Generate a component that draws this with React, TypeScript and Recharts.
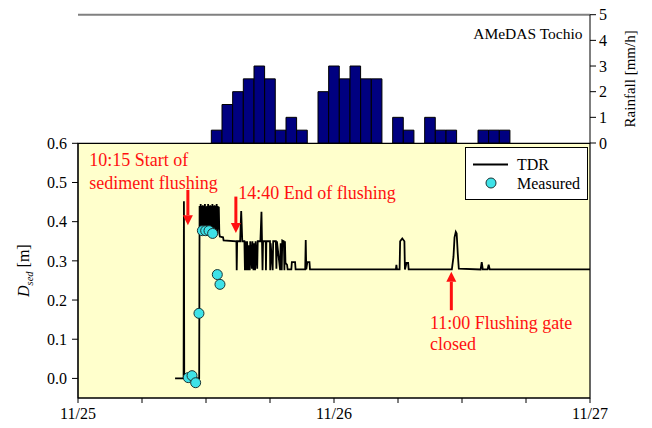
import {
  BarChart,
  Bar,
  ComposedChart,
  Line,
  Scatter,
  XAxis,
  YAxis,
  ReferenceLine,
  ReferenceArea,
  ReferenceDot,
  Legend,
} from "recharts";

const FONT = "Liberation Serif, Times New Roman, DejaVu Serif, serif";
const RED = "#ff1010";

// hours are counted from 11/25 00:00, rain bars centred on the hour
const rainHours = [13, 14, 15, 16, 17, 18, 19, 20, 21, 23, 24, 25, 26, 27, 28, 30, 31, 33, 34, 35, 38, 39, 40];
const rainMm = [0.5, 1.5, 2, 2.5, 3, 2.5, 0.5, 1, 0.5, 2, 3, 2.5, 3, 2.5, 2.5, 1, 0.5, 1, 0.5, 0.5, 0.5, 0.5, 0.5];

const dayLabels = ["11/25", "11/26", "11/27"];
const hourTicks = [0, 6, 12, 18, 24, 30, 36, 42, 48];
const dsedTicks = [0, 0.1, 0.2, 0.3, 0.4, 0.5, 0.6];
const rainTicks = [0, 1, 2, 3, 4, 5];

// TDR record [hour, Dsed]
const tdrBeforeFlush: [number, number][] = [
  [9.1, 0], [9.9, 0], [9.93, 0.452], [9.96, 0], [11.36, 0],
];
const tdrFlushBand: [number, number][] = [
  [11.4, 0.44], [11.45, 0.37], [11.5, 0.445], [11.55, 0.38], [11.6, 0.44], [11.65, 0.37],
  [11.7, 0.442], [11.75, 0.39], [11.8, 0.44], [11.85, 0.375], [11.9, 0.445], [11.95, 0.38],
  [12.0, 0.438], [12.05, 0.37], [12.1, 0.44], [12.15, 0.385], [12.2, 0.445], [12.25, 0.37],
  [12.3, 0.44], [12.35, 0.38], [12.4, 0.442], [12.45, 0.375], [12.5, 0.44], [12.55, 0.38],
  [12.6, 0.445], [12.65, 0.37], [12.7, 0.44], [12.75, 0.385], [12.8, 0.442], [12.85, 0.375],
  [12.9, 0.44], [12.95, 0.38], [13.0, 0.445], [13.05, 0.37], [13.1, 0.44], [13.15, 0.38],
  [13.2, 0.438], [13.25, 0.37],
];
const tdrEndFlush: [number, number][] = [
  [13.3, 0.362], [13.6, 0.36], [13.65, 0.352], [14.85, 0.35],
];
const tdrUnstable: [number, number][] = [
  [14.88, 0.276], [14.92, 0.35], [15.2, 0.35], [15.3, 0.427], [15.4, 0.35], [15.6, 0.35],
  [15.65, 0.276], [15.7, 0.35], [15.8, 0.276], [15.85, 0.35], [15.95, 0.276], [16.0, 0.34],
  [16.1, 0.276], [16.15, 0.35], [16.3, 0.28], [16.35, 0.35], [16.45, 0.276], [16.5, 0.345],
  [16.6, 0.276], [16.65, 0.35], [16.8, 0.28], [16.85, 0.35], [17.1, 0.35], [17.2, 0.425],
  [17.25, 0.35], [17.3, 0.276], [17.35, 0.35], [17.6, 0.35], [17.62, 0.276], [17.66, 0.35],
  [18.0, 0.35], [18.02, 0.276], [18.06, 0.345], [18.25, 0.276], [18.3, 0.35], [18.55, 0.35],
  [18.6, 0.28], [18.65, 0.35], [18.95, 0.276], [19.0, 0.345], [19.1, 0.276], [19.15, 0.352],
  [19.3, 0.35], [19.35, 0.276], [19.4, 0.35], [19.45, 0.295], [19.6, 0.29],
];
const tdrSettled: [number, number][] = [
  [19.65, 0.278], [20.0, 0.278], [20.05, 0.297], [20.35, 0.297], [20.4, 0.278], [21.3, 0.278],
  [21.35, 0.353], [21.4, 0.278], [21.5, 0.297], [21.7, 0.297], [21.75, 0.278], [29.8, 0.278],
  [29.85, 0.29], [29.9, 0.278], [30.15, 0.278], [30.2, 0.35], [30.4, 0.357], [30.6, 0.35],
  [30.65, 0.278], [30.8, 0.295], [30.95, 0.295], [31.0, 0.278], [35.05, 0.278], [35.2, 0.31],
  [35.3, 0.36], [35.42, 0.374], [35.5, 0.37], [35.6, 0.32], [35.7, 0.28], [37.75, 0.278],
  [37.85, 0.297], [37.95, 0.278], [38.4, 0.278], [38.5, 0.29], [38.6, 0.278], [48, 0.278],
];

const measuredHours = [10.34, 10.69, 11.03, 11.34, 11.66, 11.97, 12.28, 12.62, 13.06, 13.31];
const measuredDsed = [0.002, 0.007, -0.011, 0.166, 0.377, 0.377, 0.377, 0.37, 0.265, 0.24];

const rainData = rainHours.map((h, i) => ({ h, rain: rainMm[i] }));
const tdrData = [...tdrBeforeFlush, ...tdrFlushBand, ...tdrEndFlush, ...tdrUnstable, ...tdrSettled].map(
  ([t, v]) => ({ t, v })
);
const measuredData = measuredHours.map((t, i) => ({ t, v: measuredDsed[i] }));

const tickStyle = { fontSize: 16, fill: "#000", fontFamily: FONT, style: { fontFamily: FONT } };

function Arrow(props: any) {
  const { x1, y1, x2, y2 } = props;
  const dir = y2 > y1 ? 1 : -1;
  const baseY = y2 - dir * 10;
  return (
    <g>
      <line x1={x1} y1={y1} x2={x2} y2={baseY} stroke={RED} strokeWidth={3} />
      <polygon points={`${x2 - 5},${baseY} ${x2 + 5},${baseY} ${x2},${y2}`} fill={RED} />
    </g>
  );
}

function note(lines: string[], gap: number) {
  return (p: any) => (
    <text x={p.cx} y={p.cy} fill={RED} fontSize={18} style={{ fontFamily: FONT }}>
      {lines.map((l, i) => (
        <tspan key={i} x={p.cx} dy={i === 0 ? 0 : gap}>
          {l}
        </tspan>
      ))}
    </text>
  );
}

function DsedLabel({ viewBox }: any) {
  const x = viewBox.x + 11;
  const y = viewBox.y + viewBox.height / 2;
  return (
    <text transform={`translate(${x},${y}) rotate(-90)`} textAnchor="middle" style={{ fontFamily: FONT }} fontSize={16} fill="#000">
      <tspan fontStyle="italic">D</tspan>
      <tspan fontStyle="italic" fontSize={10.5} dy={4}>sed</tspan>
      <tspan dy={-4}> [m]</tspan>
    </text>
  );
}

function RainLabel({ viewBox }: any) {
  const x = viewBox.x + 44.5;
  const y = viewBox.y + viewBox.height / 2;
  return (
    <text transform={`translate(${x},${y}) rotate(-90)`} textAnchor="middle" style={{ fontFamily: FONT }} fontSize={15} fill="#000">
      Rainfall [mm/h]
    </text>
  );
}

function LegendBox({ payload }: any) {
  // line entry first, as in the original legend
  const items = [...(payload || [])].sort((a: any, b: any) => (a.type === "line" ? -1 : 0) - (b.type === "line" ? -1 : 0));
  return (
    <svg width={123} height={53} style={{ display: "block" }}>
      <rect x={0.5} y={0.5} width={122} height={52} fill="#fff" stroke="#000" />
      {items.map((e: any, i: number) => {
        const y = 17.5 + i * 18.5;
        return (
          <g key={e.value}>
            {e.type === "line" ? (
              <line x1={8} x2={43} y1={y} y2={y} stroke="#000" strokeWidth={1.8} />
            ) : (
              <circle cx={26} cy={y} r={5} fill="#3ee2e8" stroke="#1c3434" />
            )}
            <text x={52} y={y + 5.5} fontSize={16} style={{ fontFamily: FONT }} fill="#000">
              {e.value}
            </text>
          </g>
        );
      })}
    </svg>
  );
}

export default function App() {
  return (
    <div style={{ position: "absolute", left: 0, top: 0, width: 652, height: 428, background: "#fff", fontFamily: FONT }}>
      <div style={{ position: "absolute", left: 0, top: 0 }}>
        <ComposedChart width={652} height={428} margin={{ top: 143.3, right: 62, bottom: 4, left: 18 }}>
          <XAxis
            dataKey="t"
            type="number"
            domain={[0, 48]}
            ticks={hourTicks}
            tickFormatter={(t: number) => (t % 24 === 0 ? dayLabels[t / 24] : "")}
            height={26}
            tickSize={5}
            tickMargin={5}
            tick={tickStyle}
            axisLine={{ stroke: "#000" }}
            tickLine={{ stroke: "#000" }}
          />
          <YAxis
            type="number"
            domain={[-0.05, 0.6]}
            allowDataOverflow
            ticks={dsedTicks}
            tickFormatter={(v: number) => v.toFixed(1)}
            width={60}
            tickSize={6}
            tickMargin={5}
            tick={tickStyle}
            axisLine={{ stroke: "#000" }}
            tickLine={{ stroke: "#000" }}
            label={DsedLabel}
          />
          <ReferenceArea x1={0} x2={48} y1={-0.05} y2={0.6} fill="#ffffcc" fillOpacity={1} stroke="#000" strokeWidth={1.2} />
          <Line
            data={tdrData}
            dataKey="v"
            name="TDR"
            type="linear"
            stroke="#000"
            strokeWidth={1.8}
            dot={false}
            isAnimationActive={false}
          />
          <Scatter
            data={measuredData}
            dataKey="v"
            name="Measured"
            isAnimationActive={false}
            shape={(p: any) => <circle cx={p.cx} cy={p.cy} r={5} fill="#3ee2e8" stroke="#1c3434" strokeWidth={1} />}
          />
          <ReferenceLine segment={[{ x: 10.3, y: 0.481 }, { x: 10.3, y: 0.391 }]} shape={Arrow} />
          <ReferenceLine segment={[{ x: 14.8, y: 0.464 }, { x: 14.8, y: 0.371 }]} shape={Arrow} />
          <ReferenceLine segment={[{ x: 35.0, y: 0.174 }, { x: 35.0, y: 0.272 }]} shape={Arrow} />
          <ReferenceDot x={1.06} y={0.542} r={0} shape={note(["10:15 Start of", "sediment flushing"], 22.5)} />
          <ReferenceDot x={15.03} y={0.458} r={0} shape={note(["14:40 End of flushing"], 0)} />
          <ReferenceDot x={33.0} y={0.125} r={0} shape={note(["11:00 Flushing gate", "closed"], 21)} />
          <Legend
            layout="vertical"
            align="center"
            verticalAlign="middle"
            wrapperStyle={{ left: 465, top: 147, width: 123, height: 53 }}
            content={LegendBox}
          />
        </ComposedChart>
      </div>
      <div style={{ position: "absolute", left: 0, top: 0, pointerEvents: "none" }}>
        <BarChart width={652} height={428} data={rainData} margin={{ top: 14.7, right: 12, bottom: 281, left: 78 }}>
          <XAxis
            dataKey="h"
            type="number"
            domain={[0, 48]}
            ticks={hourTicks}
            tick={false}
            height={4}
            tickSize={4}
            axisLine={false}
            tickLine={{ stroke: "#000" }}
          />
          <YAxis
            orientation="right"
            type="number"
            domain={[0, 5]}
            ticks={rainTicks}
            width={50}
            tickSize={6}
            tickMargin={3}
            tick={tickStyle}
            axisLine={{ stroke: "#000" }}
            tickLine={{ stroke: "#000" }}
            label={RainLabel}
          />
          <ReferenceLine y={5} stroke="#808080" strokeWidth={2} />
          <Bar dataKey="rain" fill="#000080" stroke="#000" strokeWidth={1} barSize={10.6} isAnimationActive={false} />
          <ReferenceDot
            x={47.3}
            y={4.05}
            r={0}
            shape={(p: any) => (
              <text x={p.cx} y={p.cy} textAnchor="end" fontSize={15.5} style={{ fontFamily: FONT }} fill="#000">
                AMeDAS Tochio
              </text>
            )}
          />
        </BarChart>
      </div>
    </div>
  );
}
